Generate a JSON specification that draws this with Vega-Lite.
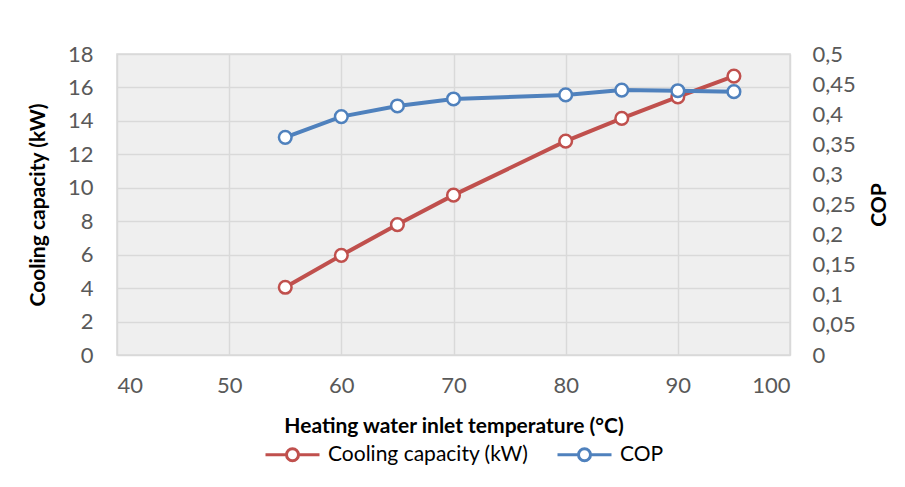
{
  "$schema": "https://vega.github.io/schema/vega-lite/v6.json",
  "width": 673,
  "height": 301,
  "autosize": {"type": "none"},
  "padding": {"left": 117, "top": 54, "right": 115, "bottom": 132},
  "background": "white",
  "config": {
    "font": "Lato",
    "view": {"fill": "#efefef", "stroke": "#d9d9d9", "strokeWidth": 1.5},
    "axis": {
      "labelFont": "Lato", "labelFontSize": 22, "labelColor": "#595959",
      "titleFont": "Lato", "titleFontSize": 21, "titleFontWeight": "bold", "titleColor": "#000000",
      "domain": false, "ticks": false, "gridColor": "#d9d9d9", "gridWidth": 1.5
    },
    "legend": {
      "orient": "none", "legendX": 165, "legendY": 390, "direction": "horizontal", "title": null,
      "labelFont": "Lato", "labelFontSize": 21, "labelColor": "#000000", "labelLimit": 500,
      "symbolType": "M-4.5,0H-1M1,0H4.5M-1,0A1,1 0 1,0 1,0A1,1 0 1,0 -1,0",
      "symbolSize": 144, "symbolStrokeWidth": 3, "symbolFillColor": "white",
      "labelOffset": 25, "columnPadding": 22
    }
  },
  "data": {
    "values": [
      {"T": 55, "series": "Cooling capacity (kW)", "value": 4.05},
      {"T": 60, "series": "Cooling capacity (kW)", "value": 5.96},
      {"T": 65, "series": "Cooling capacity (kW)", "value": 7.8},
      {"T": 70, "series": "Cooling capacity (kW)", "value": 9.56},
      {"T": 80, "series": "Cooling capacity (kW)", "value": 12.79},
      {"T": 85, "series": "Cooling capacity (kW)", "value": 14.15},
      {"T": 90, "series": "Cooling capacity (kW)", "value": 15.44},
      {"T": 95, "series": "Cooling capacity (kW)", "value": 16.68},
      {"T": 55, "series": "COP", "value": 0.3616},
      {"T": 60, "series": "COP", "value": 0.396},
      {"T": 65, "series": "COP", "value": 0.4137},
      {"T": 70, "series": "COP", "value": 0.4253},
      {"T": 80, "series": "COP", "value": 0.432},
      {"T": 85, "series": "COP", "value": 0.44},
      {"T": 90, "series": "COP", "value": 0.439},
      {"T": 95, "series": "COP", "value": 0.4374}
    ]
  },
  "encoding": {
    "x": {
      "field": "T", "type": "quantitative",
      "scale": {"domain": [40, 100], "nice": false, "zero": false},
      "axis": {"values": [40, 50, 60, 70, 80, 90, 100], "grid": true, "labelPadding": 20, "titlePadding": 19,
               "title": "Heating water inlet temperature (°C)"}
    },
    "color": {
      "field": "series", "type": "nominal",
      "scale": {"domain": ["Cooling capacity (kW)", "COP"], "range": ["#c0504d", "#4f81bd"]},
      "legend": {}
    }
  },
  "layer": [
    {
      "transform": [{"filter": "datum.series === 'Cooling capacity (kW)'"}],
      "mark": {"type": "line", "strokeWidth": 4,
               "point": {"filled": false, "fill": "white", "size": 160, "strokeWidth": 2.5}},
      "encoding": {
        "y": {
          "field": "value", "type": "quantitative",
          "scale": {"domain": [0, 18], "nice": false},
          "axis": {"orient": "left", "values": [0, 2, 4, 6, 8, 10, 12, 14, 16, 18], "grid": true,
                   "labelPadding": 24, "titlePadding": 19, "title": "Cooling capacity (kW)"}
        }
      }
    },
    {
      "transform": [{"filter": "datum.series === 'COP'"}],
      "mark": {"type": "line", "strokeWidth": 4,
               "point": {"filled": false, "fill": "white", "size": 160, "strokeWidth": 2.5}},
      "encoding": {
        "y": {
          "field": "value", "type": "quantitative",
          "scale": {"domain": [0, 0.5], "nice": false},
          "axis": {"orient": "right", "values": [0, 0.05, 0.1, 0.15, 0.2, 0.25, 0.3, 0.35, 0.4, 0.45, 0.5],
                   "grid": false, "labelPadding": 22, "titlePadding": 13, "titleAngle": 270, "titleBaseline": "top",
                   "labelExpr": "replace(format(datum.value, '.2~f'), '.', ',')", "title": "COP"}
        }
      }
    }
  ],
  "resolve": {"scale": {"y": "independent"}}
}
